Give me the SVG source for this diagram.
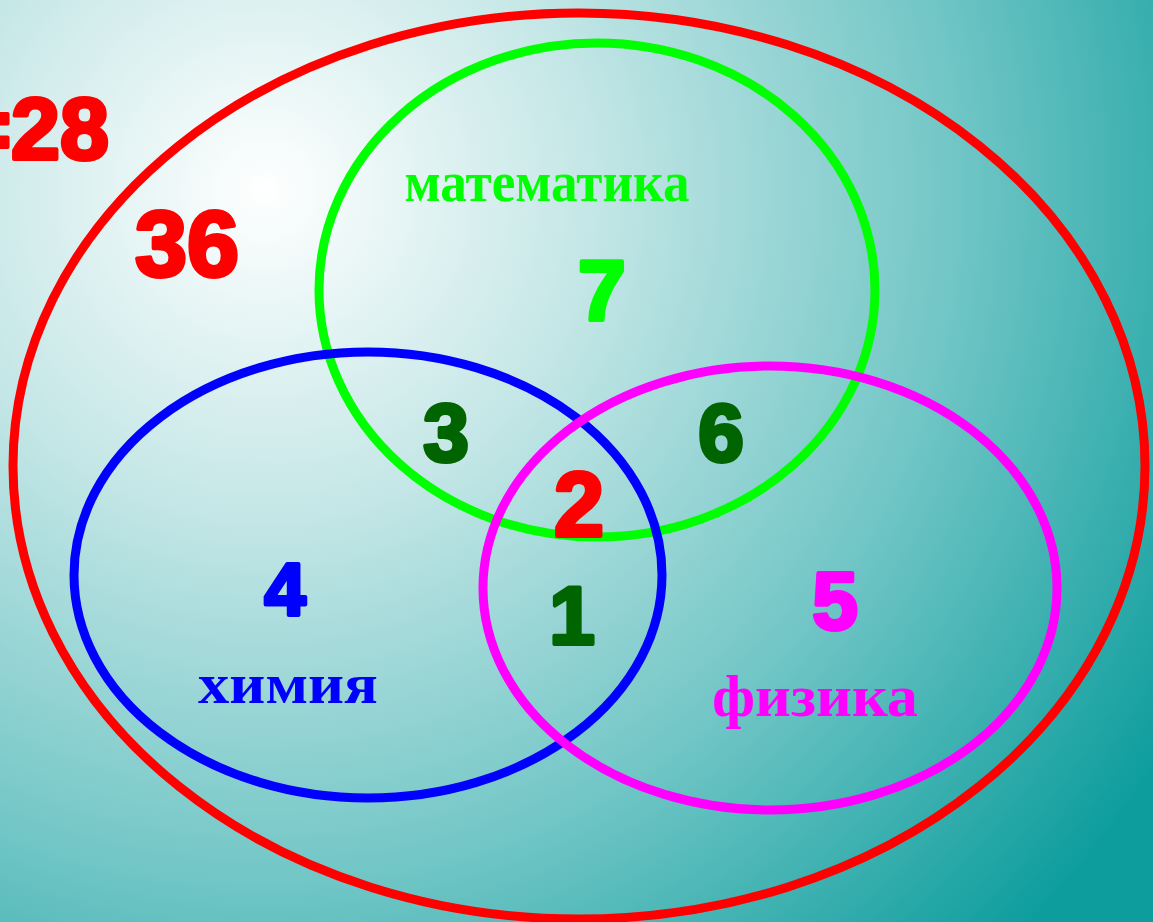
<svg xmlns="http://www.w3.org/2000/svg" width="1153" height="922" viewBox="0 0 1153 922">
<defs>
<radialGradient id="bg" gradientUnits="userSpaceOnUse" cx="265" cy="190" r="1060">
<stop offset="0" stop-color="#ffffff"/>
<stop offset="0.3" stop-color="#c6e7e7"/>
<stop offset="0.65" stop-color="#72c6c6"/>
<stop offset="1" stop-color="#0e9d9d"/>
</radialGradient>
<style>
.ring{fill:none;stroke-width:9}
.num{font-family:"Liberation Sans",Arial,sans-serif;font-weight:bold;text-anchor:middle;stroke-width:4;stroke-linejoin:round}
.lbl{font-family:"Liberation Serif","Times New Roman",serif;font-weight:bold;text-anchor:middle}
</style>
</defs>
<rect width="1153" height="922" fill="url(#bg)"/>
<g id="universe">
<ellipse class="ring" cx="579" cy="466" rx="566" ry="453" stroke="#ff0000"/>
<text class="num" x="109" y="159" font-size="88" fill="#ff0000" stroke="#ff0000" style="text-anchor:end">=28</text>
<text class="num" x="187" y="276" font-size="92" fill="#ff0000" stroke="#ff0000" textLength="104" lengthAdjust="spacingAndGlyphs">36</text>
</g>
<g id="math">
<ellipse class="ring" cx="597" cy="290" rx="278" ry="247" stroke="#00ff00"/>
<text class="lbl" x="547" y="201" font-size="56" fill="#00ff00" textLength="285" lengthAdjust="spacingAndGlyphs">математика</text>
<text class="num" x="602" y="320" font-size="86" fill="#00ff00" stroke="#00ff00">7</text>
</g>
<g id="chem">
<ellipse class="ring" cx="368" cy="575" rx="294" ry="223" stroke="#0000ff"/>
<text class="num" x="285" y="615" font-size="74" fill="#0000ff" stroke="#0000ff">4</text>
<text class="lbl" x="288" y="703" font-size="58" fill="#0000ff" textLength="180" lengthAdjust="spacingAndGlyphs">химия</text>
</g>
<g id="phys">
<ellipse class="ring" cx="770" cy="588" rx="287" ry="222" stroke="#ff00ff"/>
<text class="num" x="835" y="629" font-size="82" fill="#ff00ff" stroke="#ff00ff">5</text>
<text class="lbl" x="815" y="716" font-size="60" fill="#ff00ff" textLength="206" lengthAdjust="spacingAndGlyphs">физика</text>
</g>
<g id="regions">
<text class="num" x="446" y="461" font-size="82" fill="#006400" stroke="#006400">3</text>
<text class="num" x="721" y="461" font-size="82" fill="#006400" stroke="#006400">6</text>
<text class="num" x="579" y="536" font-size="90" fill="#ff0000" stroke="#ff0000">2</text>
<text class="num" x="572" y="644" font-size="82" fill="#006400" stroke="#006400">1</text>
</g>
<g id="connectors"/>
</svg>
